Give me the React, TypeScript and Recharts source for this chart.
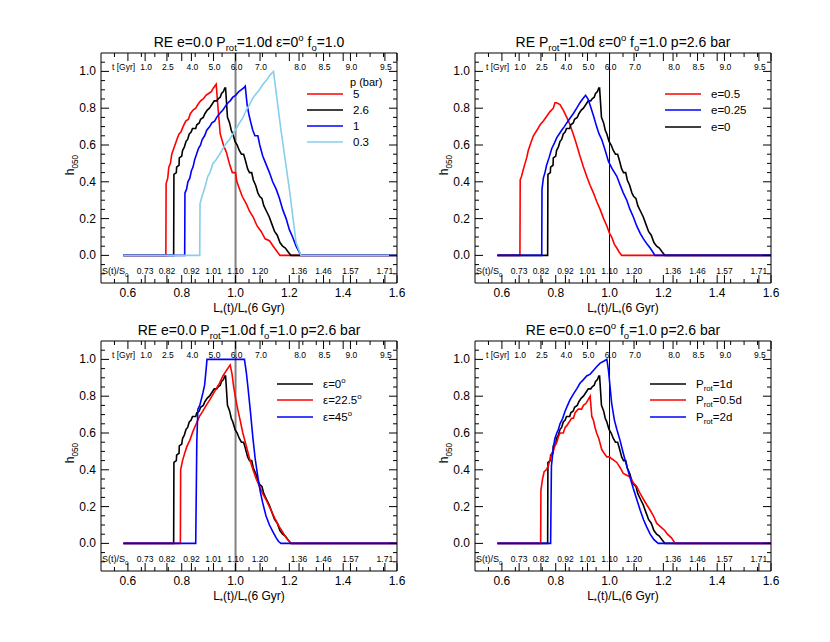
import { LineChart, Line, XAxis, YAxis, ReferenceLine } from "recharts";

const FONT = "'Liberation Sans', Arial, Helvetica, sans-serif";

// positions on the L*(t)/L*(6 Gyr) axis where t and S(t)/S0 are marked
const markPos = [0.664, 0.745, 0.836, 0.918, 1.0, 1.091, 1.236, 1.327, 1.427, 1.555];
const tLabels = ["1.0", "2.5", "4.0", "5.0", "6.0", "7.0", "8.0", "8.5", "9.0", "9.5"];
const sLabels = ["0.73", "0.82", "0.92", "1.01", "1.10", "1.20", "1.36", "1.46", "1.57", "1.71"];

const xMajor = [0.6, 0.8, 1.0, 1.2, 1.4, 1.6];
const xMinor = [0.55, 0.65, 0.7, 0.75, 0.85, 0.9, 0.95, 1.05, 1.1, 1.15, 1.25, 1.3, 1.35, 1.45, 1.5, 1.55];
const yMajor = [0, 0.2, 0.4, 0.6, 0.8, 1.0];
const yMinor = [-0.1, -0.05, 0.05, 0.1, 0.15, 0.25, 0.3, 0.35, 0.45, 0.5, 0.55, 0.65, 0.7, 0.75, 0.85, 0.9, 0.95, 1.05];

const xTicks = Array.from(new Set([...xMinor, ...xMajor, ...markPos])).sort((a, b) => a - b);
const yTicks = [...yMinor, ...yMajor].sort((a, b) => a - b);

// baseline model: e=0, p=2.6 bar, Prot=1d, eps=0
const base = [
  [0.583, 0], [0.77, 0], [0.771, 0.44], [0.78, 0.45], [0.781, 0.48], [0.79, 0.49], [0.791, 0.53],
  [0.8, 0.54], [0.803, 0.57], [0.81, 0.59], [0.816, 0.62], [0.822, 0.63], [0.828, 0.66], [0.835, 0.67],
  [0.84, 0.69], [0.852, 0.69], [0.856, 0.71], [0.865, 0.72], [0.87, 0.74], [0.88, 0.75], [0.886, 0.77],
  [0.895, 0.79], [0.903, 0.8], [0.912, 0.82], [0.921, 0.84], [0.93, 0.84], [0.935, 0.85], [0.943, 0.86],
  [0.948, 0.88], [0.955, 0.89], [0.96, 0.91], [0.963, 0.91], [0.97, 0.75], [0.978, 0.72], [0.984, 0.68],
  [0.99, 0.66], [0.998, 0.62], [1.006, 0.6], [1.014, 0.57], [1.022, 0.55], [1.03, 0.55], [1.036, 0.52],
  [1.045, 0.47], [1.052, 0.45], [1.06, 0.45], [1.066, 0.41], [1.075, 0.38], [1.083, 0.34], [1.09, 0.32],
  [1.098, 0.31], [1.105, 0.27], [1.115, 0.24], [1.125, 0.21], [1.135, 0.17], [1.145, 0.13], [1.155, 0.11],
  [1.165, 0.07], [1.175, 0.05], [1.185, 0.04], [1.195, 0.02], [1.206, 0], [1.6, 0],
];

const p5 = [
  [0.583, 0], [0.741, 0], [0.742, 0.39], [0.748, 0.42], [0.752, 0.48], [0.758, 0.5], [0.763, 0.55],
  [0.77, 0.58], [0.775, 0.6], [0.782, 0.63], [0.79, 0.66], [0.797, 0.67], [0.805, 0.7], [0.815, 0.73],
  [0.825, 0.74], [0.832, 0.77], [0.842, 0.79], [0.852, 0.8], [0.86, 0.82], [0.87, 0.84], [0.88, 0.85],
  [0.89, 0.87], [0.9, 0.88], [0.91, 0.89], [0.918, 0.91], [0.928, 0.93], [0.935, 0.8], [0.943, 0.66],
  [0.955, 0.6], [0.966, 0.56], [0.977, 0.5], [0.988, 0.45], [1.0, 0.45], [1.005, 0.4], [1.015, 0.36],
  [1.025, 0.32], [1.04, 0.28], [1.052, 0.24], [1.065, 0.21], [1.08, 0.16], [1.095, 0.13], [1.11, 0.09],
  [1.126, 0.08], [1.14, 0.05], [1.155, 0.02], [1.165, 0], [1.6, 0],
];

const p1 = [
  [0.583, 0], [0.811, 0], [0.812, 0.34], [0.818, 0.36], [0.823, 0.4], [0.83, 0.42], [0.836, 0.46],
  [0.842, 0.48], [0.848, 0.52], [0.855, 0.55], [0.862, 0.58], [0.87, 0.6], [0.876, 0.63], [0.885, 0.65],
  [0.893, 0.68], [0.904, 0.7], [0.912, 0.72], [0.922, 0.73], [0.93, 0.75], [0.94, 0.77], [0.953, 0.79],
  [0.962, 0.81], [0.972, 0.83], [0.98, 0.84], [0.99, 0.86], [1.0, 0.87], [1.012, 0.89], [1.021, 0.9],
  [1.03, 0.91], [1.036, 0.92], [1.043, 0.82], [1.049, 0.77], [1.057, 0.72], [1.064, 0.68], [1.072, 0.65],
  [1.083, 0.65], [1.09, 0.6], [1.101, 0.54], [1.112, 0.5], [1.126, 0.45], [1.138, 0.4], [1.151, 0.36],
  [1.163, 0.31], [1.175, 0.25], [1.188, 0.2], [1.2, 0.14], [1.212, 0.1], [1.225, 0.05], [1.243, 0], [1.6, 0],
];

const p03 = [
  [0.583, 0], [0.867, 0], [0.868, 0.28], [0.875, 0.32], [0.88, 0.34], [0.888, 0.38], [0.897, 0.43],
  [0.905, 0.45], [0.916, 0.5], [0.928, 0.52], [0.941, 0.55], [0.953, 0.58], [0.966, 0.61], [0.978, 0.63],
  [0.99, 0.66], [1.003, 0.69], [1.015, 0.72], [1.028, 0.75], [1.04, 0.79], [1.052, 0.82], [1.064, 0.855],
  [1.077, 0.88], [1.089, 0.9], [1.102, 0.93], [1.114, 0.95], [1.128, 0.98], [1.141, 1.0], [1.169, 0.68],
  [1.2, 0.36], [1.225, 0.07], [1.243, 0], [1.6, 0],
];

const e05 = [
  [0.583, 0], [0.667, 0], [0.668, 0.41], [0.673, 0.43], [0.68, 0.47], [0.686, 0.5], [0.692, 0.53],
  [0.698, 0.57], [0.707, 0.61], [0.717, 0.65], [0.73, 0.68], [0.742, 0.71], [0.754, 0.73], [0.766, 0.755],
  [0.778, 0.78], [0.791, 0.8], [0.797, 0.83], [0.803, 0.83], [0.816, 0.82], [0.828, 0.79], [0.841, 0.75],
  [0.853, 0.71], [0.865, 0.66], [0.878, 0.6], [0.89, 0.54], [0.903, 0.48], [0.915, 0.43], [0.928, 0.38],
  [0.94, 0.34], [0.953, 0.29], [0.965, 0.25], [0.978, 0.2], [0.99, 0.16], [1.0, 0.12], [1.008, 0.1],
  [1.018, 0.06], [1.027, 0.04], [1.035, 0.02], [1.045, 0], [1.6, 0],
];

const e025 = [
  [0.583, 0], [0.748, 0], [0.749, 0.36], [0.754, 0.42], [0.76, 0.45], [0.766, 0.49], [0.775, 0.53],
  [0.785, 0.58], [0.795, 0.61], [0.804, 0.64], [0.813, 0.66], [0.822, 0.68], [0.832, 0.7], [0.841, 0.72],
  [0.853, 0.745], [0.865, 0.77], [0.878, 0.8], [0.89, 0.83], [0.9, 0.85], [0.911, 0.87], [0.92, 0.85],
  [0.927, 0.82], [0.94, 0.76], [0.952, 0.7], [0.961, 0.66], [0.971, 0.63], [0.984, 0.57], [0.996, 0.51],
  [1.01, 0.47], [1.027, 0.43], [1.04, 0.38], [1.051, 0.34], [1.064, 0.3], [1.076, 0.25], [1.088, 0.21],
  [1.101, 0.16], [1.114, 0.12], [1.126, 0.09], [1.14, 0.06], [1.151, 0.04], [1.16, 0.02], [1.169, 0], [1.6, 0],
];

const eps225 = [
  [0.583, 0], [0.795, 0], [0.796, 0.4], [0.803, 0.45], [0.811, 0.49], [0.82, 0.53], [0.83, 0.56],
  [0.842, 0.61], [0.854, 0.65], [0.866, 0.69], [0.879, 0.72], [0.891, 0.75], [0.904, 0.78], [0.916, 0.81],
  [0.928, 0.84], [0.94, 0.87], [0.953, 0.91], [0.966, 0.94], [0.98, 0.97], [0.987, 0.92], [0.993, 0.85],
  [1.0, 0.79], [1.008, 0.73], [1.017, 0.67], [1.027, 0.6], [1.04, 0.53], [1.052, 0.46], [1.065, 0.4],
  [1.077, 0.35], [1.089, 0.31], [1.101, 0.27], [1.116, 0.23], [1.132, 0.18], [1.148, 0.13], [1.163, 0.09],
  [1.176, 0.06], [1.188, 0.03], [1.2, 0.01], [1.206, 0], [1.6, 0],
];

const eps45 = [
  [0.583, 0], [0.852, 0], [0.856, 0.55], [0.86, 0.73], [0.867, 0.75], [0.874, 0.79], [0.879, 0.82],
  [0.885, 0.86], [0.889, 0.92], [0.894, 1.0], [1.033, 1.0], [1.04, 0.93], [1.046, 0.85], [1.055, 0.72],
  [1.064, 0.58], [1.073, 0.46], [1.083, 0.36], [1.092, 0.28], [1.101, 0.22], [1.113, 0.15], [1.126, 0.1],
  [1.14, 0.06], [1.151, 0.03], [1.16, 0.01], [1.169, 0], [1.6, 0],
];

const prot05 = [
  [0.583, 0], [0.744, 0], [0.745, 0.29], [0.751, 0.35], [0.757, 0.39], [0.765, 0.4], [0.772, 0.42],
  [0.778, 0.45], [0.785, 0.49], [0.791, 0.5], [0.797, 0.53], [0.804, 0.55], [0.81, 0.58], [0.816, 0.6],
  [0.828, 0.6], [0.835, 0.63], [0.841, 0.64], [0.85, 0.66], [0.859, 0.68], [0.866, 0.68], [0.872, 0.71],
  [0.884, 0.73], [0.896, 0.73], [0.903, 0.75], [0.912, 0.76], [0.92, 0.78], [0.928, 0.8], [0.934, 0.69],
  [0.94, 0.67], [0.946, 0.63], [0.952, 0.6], [0.96, 0.57], [0.971, 0.51], [0.98, 0.49], [0.99, 0.47],
  [1.0, 0.47], [1.008, 0.46], [1.018, 0.45], [1.027, 0.44], [1.04, 0.41], [1.051, 0.38], [1.064, 0.37],
  [1.076, 0.36], [1.088, 0.33], [1.101, 0.31], [1.114, 0.27], [1.126, 0.24], [1.138, 0.21], [1.151, 0.18],
  [1.163, 0.15], [1.175, 0.11], [1.19, 0.09], [1.205, 0.07], [1.215, 0.05], [1.23, 0.03], [1.244, 0], [1.6, 0],
];

const prot2 = [
  [0.583, 0], [0.781, 0], [0.784, 0.42], [0.791, 0.52], [0.797, 0.57], [0.804, 0.6], [0.81, 0.62],
  [0.816, 0.65], [0.826, 0.68], [0.835, 0.72], [0.844, 0.75], [0.853, 0.78], [0.865, 0.81], [0.878, 0.84],
  [0.89, 0.87], [0.903, 0.89], [0.915, 0.91], [0.928, 0.92], [0.94, 0.94], [0.952, 0.96], [0.965, 0.98],
  [0.978, 0.99], [0.99, 1.0], [0.996, 0.94], [1.002, 0.85], [1.008, 0.76], [1.018, 0.67], [1.027, 0.62],
  [1.039, 0.56], [1.051, 0.49], [1.064, 0.42], [1.076, 0.36], [1.088, 0.3], [1.101, 0.24], [1.114, 0.18],
  [1.126, 0.13], [1.138, 0.09], [1.151, 0.05], [1.165, 0.02], [1.181, 0], [1.6, 0],
];

const toPts = (arr: number[][]) => arr.map(([L, h]) => ({ L, h }));

type Seg = [string, "n" | "sub" | "sup"];

function Rich({ segs, fontSize, ...rest }: any) {
  let shift = 0;
  return (
    <text fontSize={fontSize} fill="#000" {...rest}>
      {(segs as Seg[]).map(([t, k], i) => {
        const target = k === "sub" ? 0.3 * fontSize : k === "sup" ? -0.45 * fontSize : 0;
        const dy = target - shift;
        shift = target;
        return (
          <tspan key={i} dy={dy} fontSize={k === "n" ? fontSize : fontSize * 0.68}>
            {t}
          </tspan>
        );
      })}
    </text>
  );
}

function BottomTick({ x, y, payload }: any) {
  const v = payload.value;
  const major = xMajor.includes(v);
  const mi = markPos.indexOf(v);
  const len = major || mi >= 0 ? 8 : 4;
  return (
    <g>
      <line x1={x} x2={x} y1={y} y2={y - len} stroke="#000" />
      {major && (
        <text x={x} y={y + 14} textAnchor="middle" fontSize={12} fill="#000">
          {v.toFixed(1)}
        </text>
      )}
      {mi >= 0 && (
        <text x={x} y={y - 9} textAnchor="middle" fontSize={8.5} fill="#000">
          {sLabels[mi]}
        </text>
      )}
    </g>
  );
}

function TopTick({ x, y, payload }: any) {
  const v = payload.value;
  const major = xMajor.includes(v);
  const mi = markPos.indexOf(v);
  const len = major || mi >= 0 ? 8 : 4;
  return (
    <g>
      <line x1={x} x2={x} y1={y} y2={y + len} stroke="#000" />
      {mi >= 0 && (
        <text x={x + 1} y={y + 17} textAnchor="middle" fontSize={8.5} fill="#000">
          {tLabels[mi]}
        </text>
      )}
    </g>
  );
}

function LeftTick({ x, y, payload }: any) {
  const v = payload.value;
  const major = yMajor.includes(v);
  return (
    <g>
      <line x1={x} x2={x + (major ? 8 : 4)} y1={y} y2={y} stroke="#000" />
      {major && (
        <text x={x - 5} y={y + 4} textAnchor="end" fontSize={12} fill="#000">
          {v.toFixed(1)}
        </text>
      )}
    </g>
  );
}

function RightTick({ x, y, payload }: any) {
  const major = yMajor.includes(payload.value);
  return <line x1={x} x2={x - (major ? 8 : 4)} y1={y} y2={y} stroke="#000" />;
}

const xTitle: Seg[] = [["L", "n"], ["*", "sub"], ["(t)/L", "n"], ["*", "sub"], ["(6 Gyr)", "n"]];
const yTitle: Seg[] = [["h", "n"], ["050", "sub"]];

const RED = "#ff0000";
const BLUE = "#0000ff";
const BLACK = "#000000";
const SKY = "#87ceeb";

const panels = [
  {
    left: 41,
    top: 0,
    title: [["RE e=0.0 P", "n"], ["rot", "sub"], ["=1.0d \u03b5=0", "n"], ["o", "sup"], [" f", "n"], ["o", "sub"], ["=1.0", "n"]] as Seg[],
    vColor: "#808080",
    vWidth: 2,
    head: "p (bar)",
    lx: 206,
    rows: [41, 57, 73, 89],
    series: [
      { name: "5", data: p5, color: RED },
      { name: "2.6", data: base, color: BLACK },
      { name: "1", data: p1, color: BLUE },
      { name: "0.3", data: p03, color: SKY },
    ],
    legend: [
      { segs: [["5", "n"]] as Seg[], color: RED },
      { segs: [["2.6", "n"]] as Seg[], color: BLACK },
      { segs: [["1", "n"]] as Seg[], color: BLUE },
      { segs: [["0.3", "n"]] as Seg[], color: SKY },
    ],
  },
  {
    left: 415,
    top: 0,
    title: [["RE P", "n"], ["rot", "sub"], ["=1.0d \u03b5=0", "n"], ["o", "sup"], [" f", "n"], ["o", "sub"], ["=1.0 p=2.6 bar", "n"]] as Seg[],
    vColor: "#000",
    vWidth: 1,
    head: "",
    lx: 190,
    rows: [41, 57, 74],
    series: [
      { name: "e=0.5", data: e05, color: RED },
      { name: "e=0", data: base, color: BLACK },
      { name: "e=0.25", data: e025, color: BLUE },
    ],
    legend: [
      { segs: [["e=0.5", "n"]] as Seg[], color: RED },
      { segs: [["e=0.25", "n"]] as Seg[], color: BLUE },
      { segs: [["e=0", "n"]] as Seg[], color: BLACK },
    ],
  },
  {
    left: 41,
    top: 288,
    title: [["RE e=0.0 P", "n"], ["rot", "sub"], ["=1.0d f", "n"], ["o", "sub"], ["=1.0 p=2.6 bar", "n"]] as Seg[],
    vColor: "#808080",
    vWidth: 2,
    head: "",
    lx: 176,
    rows: [43, 59, 76],
    series: [
      { name: "eps0", data: base, color: BLACK },
      { name: "eps22.5", data: eps225, color: RED },
      { name: "eps45", data: eps45, color: BLUE },
    ],
    legend: [
      { segs: [["\u03b5=0", "n"], ["o", "sup"]] as Seg[], color: BLACK },
      { segs: [["\u03b5=22.5", "n"], ["o", "sup"]] as Seg[], color: RED },
      { segs: [["\u03b5=45", "n"], ["o", "sup"]] as Seg[], color: BLUE },
    ],
  },
  {
    left: 415,
    top: 288,
    title: [["RE e=0.0 \u03b5=0", "n"], ["o", "sup"], [" f", "n"], ["o", "sub"], ["=1.0 p=2.6 bar", "n"]] as Seg[],
    vColor: "#000",
    vWidth: 1,
    head: "",
    lx: 175,
    rows: [43, 59, 76],
    series: [
      { name: "P1", data: base, color: BLACK },
      { name: "P0.5", data: prot05, color: RED },
      { name: "P2", data: prot2, color: BLUE },
    ],
    legend: [
      { segs: [["P", "n"], ["rot", "sub"], ["=1d", "n"]] as Seg[], color: BLACK },
      { segs: [["P", "n"], ["rot", "sub"], ["=0.5d", "n"]] as Seg[], color: RED },
      { segs: [["P", "n"], ["rot", "sub"], ["=2d", "n"]] as Seg[], color: BLUE },
    ],
  },
];

const W = 376;
const H = 318;
const BX = 60;
const BY = 53;
const BW = 296;
const BH = 230;

function Panel({ cfg }: any) {
  return (
    <div style={{ position: "absolute", left: cfg.left, top: cfg.top, width: W, height: H }}>
      <LineChart width={W} height={H} margin={{ top: BY - 1, right: W - BX - BW - 1, bottom: 0, left: 0 }}>
        <XAxis
          dataKey="L"
          type="number"
          domain={[0.5, 1.6]}
          ticks={xTicks}
          interval={0}
          height={H - BY - BH}
          tickSize={0}
          tickMargin={0}
          tickLine={false}
          axisLine={{ stroke: "#000" }}
          tick={(p: any) => <BottomTick {...p} />}
          allowDataOverflow
        />
        <XAxis
          xAxisId="top"
          dataKey="L"
          orientation="top"
          type="number"
          domain={[0.5, 1.6]}
          ticks={xTicks}
          interval={0}
          height={1}
          tickSize={0}
          tickMargin={0}
          tickLine={false}
          axisLine={{ stroke: "#000" }}
          tick={(p: any) => <TopTick {...p} />}
          allowDataOverflow
        />
        <YAxis
          type="number"
          domain={[-0.15, 1.1]}
          ticks={yTicks}
          interval={0}
          width={BX}
          tickSize={0}
          tickMargin={0}
          tickLine={false}
          axisLine={{ stroke: "#000" }}
          tick={(p: any) => <LeftTick {...p} />}
          allowDataOverflow
        />
        <YAxis
          yAxisId="right"
          orientation="right"
          type="number"
          domain={[-0.15, 1.1]}
          ticks={yTicks}
          interval={0}
          width={1}
          tickSize={0}
          tickMargin={0}
          tickLine={false}
          axisLine={{ stroke: "#000" }}
          tick={(p: any) => <RightTick {...p} />}
          allowDataOverflow
        />
        <ReferenceLine x={1} stroke={cfg.vColor} strokeWidth={cfg.vWidth} />
        {cfg.series.map((s: any) => (
          <Line
            key={s.name}
            data={toPts(s.data)}
            dataKey="h"
            type="linear"
            stroke={s.color}
            strokeWidth={1.6}
            dot={false}
            activeDot={false}
            isAnimationActive={false}
          />
        ))}
      </LineChart>
      <svg width={W} height={H} style={{ position: "absolute", left: 0, top: 0, pointerEvents: "none" }}>
        <Rich x={BX + BW / 2} y={BY - 6} textAnchor="middle" fontSize={14} segs={cfg.title} />
        <Rich x={BX + BW / 2} y={BY + BH + 29} textAnchor="middle" fontSize={12} segs={xTitle} />
        <Rich
          x={33}
          y={BY + 112}
          textAnchor="middle"
          fontSize={12}
          transform={`rotate(-90 33 ${BY + 112})`}
          segs={yTitle}
        />
        <text x={BX + 11} y={BY + 17} fontSize={8.5} fill="#000">
          t [Gyr]
        </text>
        <Rich x={BX + 1} y={BY + BH - 9} fontSize={9} segs={[["S(t)/S", "n"], ["0", "sub"]]} />
        {cfg.head && (
          <text x={BX + cfg.lx + 43} y={BY + 33} fontSize={11} fill="#000">
            {cfg.head}
          </text>
        )}
        {cfg.legend.map((l: any, i: number) => (
          <g key={i}>
            <line
              x1={BX + cfg.lx}
              x2={BX + cfg.lx + 36}
              y1={BY + cfg.rows[i]}
              y2={BY + cfg.rows[i]}
              stroke={l.color}
              strokeWidth={1.6}
            />
            <Rich x={BX + cfg.lx + 46} y={BY + cfg.rows[i] + 4} fontSize={11.5} segs={l.segs} />
          </g>
        ))}
      </svg>
    </div>
  );
}

export default function App() {
  return (
    <div
      style={{
        position: "absolute",
        left: 0,
        top: 0,
        width: 830,
        height: 642,
        background: "#fff",
        fontFamily: FONT,
      }}
    >
      {panels.map((cfg, i) => (
        <Panel key={i} cfg={cfg} />
      ))}
    </div>
  );
}
